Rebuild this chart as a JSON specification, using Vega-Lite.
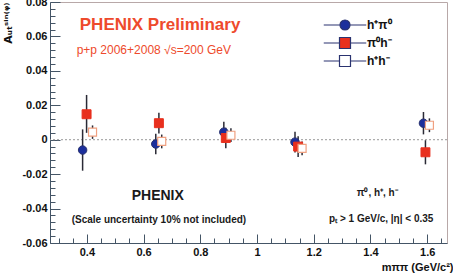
{
  "$schema": "https://vega.github.io/schema/vega-lite/v6.json",
  "width": 397,
  "height": 241,
  "autosize": {"type": "none"},
  "padding": {"left": 50, "top": 2, "right": 6, "bottom": 34},
  "background": "white",
  "config": {
    "view": {"stroke": "#b8a8a8", "strokeWidth": 1},
    "font": "Liberation Sans",
    "legend": {
      "orient": "none",
      "legendX": 289,
      "legendY": 17,
      "padding": 0,
      "rowPadding": 2,
      "symbolStrokeWidth": 1.2,
      "labelOffset": 16,
      "labelFont": "Liberation Sans",
      "labelFontWeight": "bold",
      "labelFontSize": 12,
      "labelColor": "#111111"
    }
  },
  "resolve": {"axis": {"x": "independent", "y": "independent"}},
  "datasets": {
    "pts": [
      {"s": "h⁺π⁰", "x": 0.385, "y": -0.006, "lo": -0.018, "hi": 0.006},
      {"s": "π⁰h⁻", "x": 0.399, "y": 0.0148, "lo": 0.004, "hi": 0.026},
      {"s": "h⁺h⁻", "x": 0.42, "y": 0.0044, "lo": 0.0005, "hi": 0.0083},
      {"s": "h⁺π⁰", "x": 0.643, "y": -0.0025, "lo": -0.0085, "hi": 0.0035},
      {"s": "π⁰h⁻", "x": 0.654, "y": 0.0096, "lo": 0.0036, "hi": 0.0156},
      {"s": "h⁺h⁻", "x": 0.664, "y": -0.001, "lo": -0.005, "hi": 0.003},
      {"s": "h⁺π⁰", "x": 0.883, "y": 0.0044, "lo": -0.0016, "hi": 0.0104},
      {"s": "π⁰h⁻", "x": 0.89, "y": 0.001, "lo": -0.005, "hi": 0.007},
      {"s": "h⁺h⁻", "x": 0.908, "y": 0.0026, "lo": -0.0014, "hi": 0.0066},
      {"s": "h⁺π⁰", "x": 1.134, "y": -0.0014, "lo": -0.0074, "hi": 0.0046},
      {"s": "π⁰h⁻", "x": 1.145, "y": -0.004, "lo": -0.01, "hi": 0.002},
      {"s": "h⁺h⁻", "x": 1.159, "y": -0.005, "lo": -0.009, "hi": -0.001},
      {"s": "h⁺π⁰", "x": 1.587, "y": 0.0096, "lo": 0.0031, "hi": 0.0161},
      {"s": "π⁰h⁻", "x": 1.594, "y": -0.0073, "lo": -0.0143, "hi": -0.0003},
      {"s": "h⁺h⁻", "x": 1.608, "y": 0.0084, "lo": 0.0044, "hi": 0.0124}
    ],
    "notes": [
      {"g": "big", "t": "PHENIX Preliminary", "x": 0.375, "y": 0.0666},
      {"g": "red", "t": "p+p 2006+2008  √s=200 GeV", "x": 0.364, "y": 0.052},
      {"g": "logo", "t": "PHENIX", "x": 0.65, "y": -0.0328},
      {"g": "small", "t": "(Scale uncertainty 10% not included)", "x": 0.654, "y": -0.0468},
      {"g": "small", "t": "π⁰, h⁺, h⁻", "x": 1.424, "y": -0.0311},
      {"g": "small", "t": "pₜ > 1 GeV/c, |η| < 0.35", "x": 1.438, "y": -0.0462}
    ]
  },
  "layer": [
    {
      "data": {"values": [{}]},
      "mark": {"type": "rule", "color": "#999999", "strokeDash": [2, 2], "strokeWidth": 1},
      "encoding": {
        "y": {"datum": 0, "type": "quantitative", "scale": {"domain": [-0.06, 0.08], "nice": false, "zero": false}, "axis": null}
      }
    },
    {
      "data": {"name": "pts"},
      "mark": {"type": "rule", "color": "#2a2a35", "strokeWidth": 1.5},
      "encoding": {
        "x": {"field": "x", "type": "quantitative", "scale": {"domain": [0.27, 1.67], "nice": false, "zero": false},
          "axis": {
            "orient": "bottom",
            "values": [0.4, 0.6, 0.8, 1.0, 1.2, 1.4, 1.6],
            "labelExpr": "format(datum.value, '.2~f')",
            "tickSize": -9,
            "tickColor": "#445566",
            "tickWidth": 1,
            "domainColor": "#445566",
            "labelFont": "Liberation Sans",
            "labelFontWeight": "bold",
            "labelFontSize": 11,
            "labelColor": "#111111",
            "labelPadding": 12,
            "labelFlush": false,
            "labelOverlap": false,
            "grid": false,
            "title": "mππ (GeV/c²)",
            "titleFont": "Liberation Sans",
            "titleFontWeight": "bold",
            "titleFontSize": 11,
            "titleColor": "#111111",
            "titleAnchor": "end",
            "titleAlign": "right",
            "titleBaseline": "middle",
            "titleX": 403,
            "titleY": 24
          }
        },
        "y": {"field": "lo", "type": "quantitative", "scale": {"domain": [-0.06, 0.08], "nice": false, "zero": false},
          "axis": {
            "orient": "left",
            "values": [-0.06, -0.04, -0.02, 0, 0.02, 0.04, 0.06, 0.08],
            "labelExpr": "replace(format(datum.value, '.2~f'), '−', '-')",
            "tickSize": -10,
            "tickColor": "#445566",
            "tickWidth": 1,
            "domainColor": "#445566",
            "labelFont": "Liberation Sans",
            "labelFontWeight": "bold",
            "labelFontSize": 11,
            "labelColor": "#111111",
            "labelPadding": 13,
            "labelFlush": false,
            "labelOverlap": false,
            "grid": false,
            "title": "Aᵤₜˢⁱⁿ⁽ᵠ⁾",
            "titleFont": "DejaVu Sans",
            "titleFontWeight": "bold",
            "titleFontSize": 11,
            "titleColor": "#111111",
            "titleAngle": -90,
            "titleAnchor": "end",
            "titleAlign": "right",
            "titleBaseline": "middle",
            "titleX": -42,
            "titleY": 0
          }
        },
        "y2": {"field": "hi"}
      }
    },
    {
      "data": {"name": "pts"},
      "transform": [{"filter": "datum.s === 'h⁺π⁰'"}],
      "mark": {"type": "point", "shape": "circle", "size": 72, "filled": false, "opacity": 1, "strokeWidth": 1, "stroke": "#2a3370"},
      "encoding": {
        "x": {"field": "x", "type": "quantitative", "scale": {"domain": [0.27, 1.67], "nice": false, "zero": false},
          "axis": {
            "orient": "bottom",
            "values": [0.3, 0.35, 0.45, 0.5, 0.55, 0.65, 0.7, 0.75, 0.85, 0.9, 0.95, 1.05, 1.1, 1.15, 1.25, 1.3, 1.35, 1.45, 1.5, 1.55, 1.65],
            "tickSize": -5,
            "tickColor": "#445566",
            "tickWidth": 1,
            "domain": false,
            "labels": false,
            "grid": false,
            "title": null
          }
        },
        "y": {"field": "y", "type": "quantitative", "scale": {"domain": [-0.06, 0.08], "nice": false, "zero": false},
          "axis": {
            "orient": "left",
            "values": [-0.056, -0.052, -0.048, -0.044, -0.036, -0.032, -0.028, -0.024, -0.016, -0.012, -0.008, -0.004, 0.004, 0.008, 0.012, 0.016, 0.024, 0.028, 0.032, 0.036, 0.044, 0.048, 0.052, 0.056, 0.064, 0.068, 0.072, 0.076],
            "tickSize": -5,
            "tickColor": "#445566",
            "tickWidth": 1,
            "domain": false,
            "labels": false,
            "grid": false,
            "title": null
          }
        },
        "fill": {"field": "s", "type": "nominal", "scale": {"domain": ["h⁺π⁰", "π⁰h⁻", "h⁺h⁻"], "range": ["#1c2f9c", "#e8301e", "#ffffff"]},
          "legend": {"title": null,
            "symbolType": {"expr": "datum.value === 'h⁺π⁰' ? 'M-4.25,0H-1M1,0H4.25M-1,0A1,1,0,1,0,1,0A1,1,0,1,0,-1,0Z' : 'M-4.25,0H-1.1M1.1,0H4.25M-1.1,-1.1H1.1V1.1H-1.1Z'"},
            "encode": {"symbols": {"size": {"value": 64}}}}}
      }
    },
    {
      "data": {"name": "pts"},
      "transform": [{"filter": "datum.s === 'π⁰h⁻'"}],
      "mark": {"type": "point", "shape": "square", "size": 80, "filled": false, "opacity": 1, "strokeWidth": 1, "stroke": "#e8301e"},
      "encoding": {
        "x": {"field": "x", "type": "quantitative", "scale": {"domain": [0.27, 1.67], "nice": false, "zero": false}, "axis": null},
        "y": {"field": "y", "type": "quantitative", "scale": {"domain": [-0.06, 0.08], "nice": false, "zero": false}, "axis": null},
        "fill": {"field": "s", "type": "nominal", "scale": {"domain": ["h⁺π⁰", "π⁰h⁻", "h⁺h⁻"], "range": ["#1c2f9c", "#e8301e", "#ffffff"]},
          "legend": {"title": null,
            "symbolType": {"expr": "datum.value === 'h⁺π⁰' ? 'M-4.25,0H-1M1,0H4.25M-1,0A1,1,0,1,0,1,0A1,1,0,1,0,-1,0Z' : 'M-4.25,0H-1.1M1.1,0H4.25M-1.1,-1.1H1.1V1.1H-1.1Z'"},
            "encode": {"symbols": {"size": {"value": 64}}}}}
      }
    },
    {
      "data": {"name": "pts"},
      "transform": [{"filter": "datum.s === 'h⁺h⁻'"}],
      "mark": {"type": "point", "shape": "square", "size": 64, "filled": false, "opacity": 1, "strokeWidth": 1.2, "stroke": "#f0a080"},
      "encoding": {
        "x": {"field": "x", "type": "quantitative", "scale": {"domain": [0.27, 1.67], "nice": false, "zero": false}, "axis": null},
        "y": {"field": "y", "type": "quantitative", "scale": {"domain": [-0.06, 0.08], "nice": false, "zero": false}, "axis": null},
        "fill": {"field": "s", "type": "nominal", "scale": {"domain": ["h⁺π⁰", "π⁰h⁻", "h⁺h⁻"], "range": ["#1c2f9c", "#e8301e", "#ffffff"]},
          "legend": {"title": null,
            "symbolType": {"expr": "datum.value === 'h⁺π⁰' ? 'M-4.25,0H-1M1,0H4.25M-1,0A1,1,0,1,0,1,0A1,1,0,1,0,-1,0Z' : 'M-4.25,0H-1.1M1.1,0H4.25M-1.1,-1.1H1.1V1.1H-1.1Z'"},
            "encode": {"symbols": {"size": {"value": 64}}}}}
      }
    },
    {
      "data": {"name": "notes"},
      "transform": [{"filter": "datum.g === 'big'"}],
      "mark": {"type": "text", "align": "left", "baseline": "middle", "font": "Liberation Sans", "fontWeight": "bold", "fontSize": 17, "color": "#ee4a2c"},
      "encoding": {"x": {"field": "x", "type": "quantitative", "axis": null}, "y": {"field": "y", "type": "quantitative", "axis": null}, "text": {"field": "t"}}
    },
    {
      "data": {"name": "notes"},
      "transform": [{"filter": "datum.g === 'red'"}],
      "mark": {"type": "text", "align": "left", "baseline": "middle", "font": "Liberation Sans", "fontSize": 12, "color": "#ee4a2c"},
      "encoding": {"x": {"field": "x", "type": "quantitative", "axis": null}, "y": {"field": "y", "type": "quantitative", "axis": null}, "text": {"field": "t"}}
    },
    {
      "data": {"name": "notes"},
      "transform": [{"filter": "datum.g === 'logo'"}],
      "mark": {"type": "text", "align": "center", "baseline": "middle", "font": "Liberation Sans", "fontWeight": "bold", "fontSize": 14, "color": "#1a1a1a"},
      "encoding": {"x": {"field": "x", "type": "quantitative", "axis": null}, "y": {"field": "y", "type": "quantitative", "axis": null}, "text": {"field": "t"}}
    },
    {
      "data": {"name": "notes"},
      "transform": [{"filter": "datum.g === 'small'"}],
      "mark": {"type": "text", "align": "center", "baseline": "middle", "font": "Liberation Sans", "fontWeight": "bold", "fontSize": 10, "color": "#1a1a1a"},
      "encoding": {"x": {"field": "x", "type": "quantitative", "axis": null}, "y": {"field": "y", "type": "quantitative", "axis": null}, "text": {"field": "t"}}
    }
  ]
}
